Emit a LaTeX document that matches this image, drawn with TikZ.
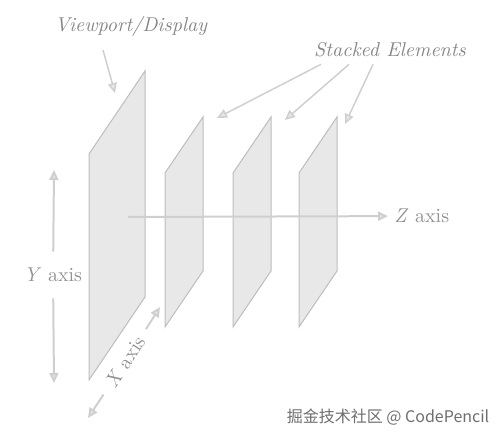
\documentclass[tikz,border=0pt]{standalone}
\usepackage{fontspec}
\newfontfamily\cjkfont{Noto Sans CJK SC}
\usetikzlibrary{arrows.meta}
\definecolor{panelfill}{HTML}{E8E8E8}
\definecolor{paneledge}{HTML}{BDBDBD}
\definecolor{axisgray}{HTML}{CFCFCF}
\definecolor{tipfill}{HTML}{E6E6E6}
\definecolor{labelgray}{HTML}{868686}
\definecolor{markgray}{HTML}{6E6E6E}

\begin{document}
\begin{tikzpicture}[x=0.5pt, y=-0.5pt,
    panel/.style={fill=panelfill, draw=paneledge, line width=0.5pt},
    axis/.style={draw=axisgray, line width=1pt, -{Triangle[length=5pt,width=4.5pt,fill=tipfill]}},
    pointer/.style={draw=axisgray, line width=0.75pt, -{Triangle[length=5pt,width=4.5pt,fill=tipfill]}},
    callout/.style={text=labelgray, font=\itshape},
    axislabel/.style={text=labelgray!90}]
  \useasboundingbox (0,0) rectangle (496,438);

  % the viewport and the stacked elements
  \filldraw[panel] (89,154) -- (145,71) -- (145,297) -- (89,380) -- cycle;
  \foreach \px in {165,233,299}
    \filldraw[panel] (\px,173) -- (\px+38,117) -- (\px+38,271) -- (\px,327) -- cycle;

  % labels
  \node[callout] (viewport) at (131,27) {Viewport/Display};
  \node[callout] (stacked) at (390,50) {Stacked Elements};
  \coordinate (vptip) at (115,93);
  \coordinate (firsttip) at (217,118);
  \coordinate (secondtip) at (285,120);
  \coordinate (thirdtip) at (345,124);
  \draw[pointer] ([xshift=-14pt,yshift=-3pt]viewport.south) -- (vptip);
  \draw[pointer] ([xshift=-34.5pt]stacked.south) -- (firsttip);
  \draw[pointer] ([xshift=-20.5pt]stacked.south) -- (secondtip);
  \draw[pointer] ([xshift=-8.5pt]stacked.south) -- (thirdtip);

  % axes
  \coordinate (zstart) at (128,217);
  \node[axislabel, anchor=west, inner sep=3pt] (zaxis) at (388,216) {\textit{Z} axis};
  \draw[axis] (zstart) -- (zaxis);

  \node[axislabel, inner xsep=2pt, inner ysep=8pt] (yaxis) at (53,275) {\textit{Y} axis};
  \coordinate (ytop) at (54,170);
  \coordinate (ybottom) at (54,383);
  \draw[axis] (yaxis) -- (ytop);
  \draw[axis] (yaxis) -- (ybottom);

  \node[axislabel, rotate=57, inner xsep=5pt] (xaxis) at (125,362) {\textit{X} axis};
  \coordinate (xtop) at (160,307);
  \coordinate (xbottom) at (88,418);
  \draw[axis] (xaxis) -- (xtop);
  \draw[axis] (xaxis) -- (xbottom);

  \node[text=markgray, font=\footnotesize] (mark) at (388,417) {\cjkfont 掘金技术社区 @ CodePencil};
\end{tikzpicture}
\end{document}
